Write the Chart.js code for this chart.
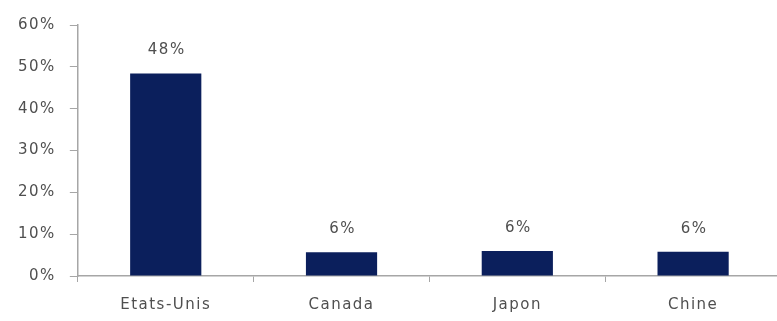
<!DOCTYPE html>
<html>
<head>
<meta charset="utf-8">
<script src="https://cdn.jsdelivr.net/npm/chart.js@4.4.1/dist/chart.umd.min.js"></script>
<style>
  html, body { margin: 0; padding: 0; background: #ffffff; overflow: hidden; }
  #wrap { width: 781px; height: 328px; position: relative; }
</style>
</head>
<body>
<div id="wrap"><canvas id="c"></canvas></div>
<script>
// ---- Data ----
const categories = ["Etats-Unis", "Canada", "Japon", "Chine"];
const shares = [0.484, 0.057, 0.060, 0.058];
const valueLabels = ["48%", "6%", "6%", "6%"];
const yTickValues = [0, 0.1, 0.2, 0.3, 0.4, 0.5, 0.6];

const TEXT_COLOR = '#4f4f4f';
const AXIS_COLOR = '#a6a6a6';
const BAR_COLOR = '#0b1f5c';
const FONT_FAMILY = '"DejaVu Sans", "Liberation Sans", sans-serif';
const FONT_SIZE = 15;
const LETTER_SPACING = '1.5px';

const spacingPlugin = {
  id: 'spacing',
  beforeUpdate(chart) { chart.ctx.letterSpacing = LETTER_SPACING; },
  beforeLayout(chart) { chart.ctx.letterSpacing = LETTER_SPACING; },
  beforeDraw(chart) { chart.ctx.letterSpacing = LETTER_SPACING; }
};

const valueLabelPlugin = {
  id: 'valueLabels',
  afterDatasetsDraw(chart) {
    const ctx = chart.ctx;
    const meta = chart.getDatasetMeta(0);
    ctx.save();
    ctx.letterSpacing = LETTER_SPACING;
    ctx.fillStyle = TEXT_COLOR;
    ctx.font = FONT_SIZE + 'px ' + FONT_FAMILY;
    ctx.textAlign = 'center';
    ctx.textBaseline = 'middle';
    meta.data.forEach((bar, i) => {
      ctx.fillText(valueLabels[i], bar.x + 1, bar.y - 23);
    });
    ctx.restore();
  }
};

new Chart(document.getElementById('c'), {
  type: 'bar',
  data: {
    labels: categories,
    datasets: [{
      data: shares,
      backgroundColor: BAR_COLOR,
      borderWidth: 0,
      barPercentage: 0.405,
      categoryPercentage: 1.0
    }]
  },
  options: {
    responsive: true,
    maintainAspectRatio: false,
    animation: false,
    layout: { padding: { left: 4, right: 0, top: 25, bottom: 0 } },
    plugins: {
      legend: { display: false },
      tooltip: { enabled: false }
    },
    scales: {
      x: {
        offset: true,
        grid: {
          offset: true,
          drawOnChartArea: false,
          drawTicks: true,
          tickLength: 6,
          color: AXIS_COLOR
        },
        border: { display: true, color: AXIS_COLOR, width: 1.5 },
        ticks: {
          color: TEXT_COLOR,
          font: { family: FONT_FAMILY, size: FONT_SIZE },
          padding: 14,
          maxRotation: 0
        }
      },
      y: {
        min: 0,
        max: 0.6,
        afterBuildTicks(axis) {
          axis.ticks = yTickValues.map(v => ({ value: v }));
        },
        grid: {
          drawOnChartArea: false,
          drawTicks: true,
          tickLength: 8,
          color: AXIS_COLOR
        },
        border: { display: true, color: AXIS_COLOR, width: 1.5 },
        ticks: {
          color: TEXT_COLOR,
          font: { family: FONT_FAMILY, size: FONT_SIZE },
          padding: 14,
          callback: (v) => Math.round(v * 100) + '%'
        }
      }
    }
  },
  plugins: [spacingPlugin, valueLabelPlugin]
});
</script>
</body>
</html>
